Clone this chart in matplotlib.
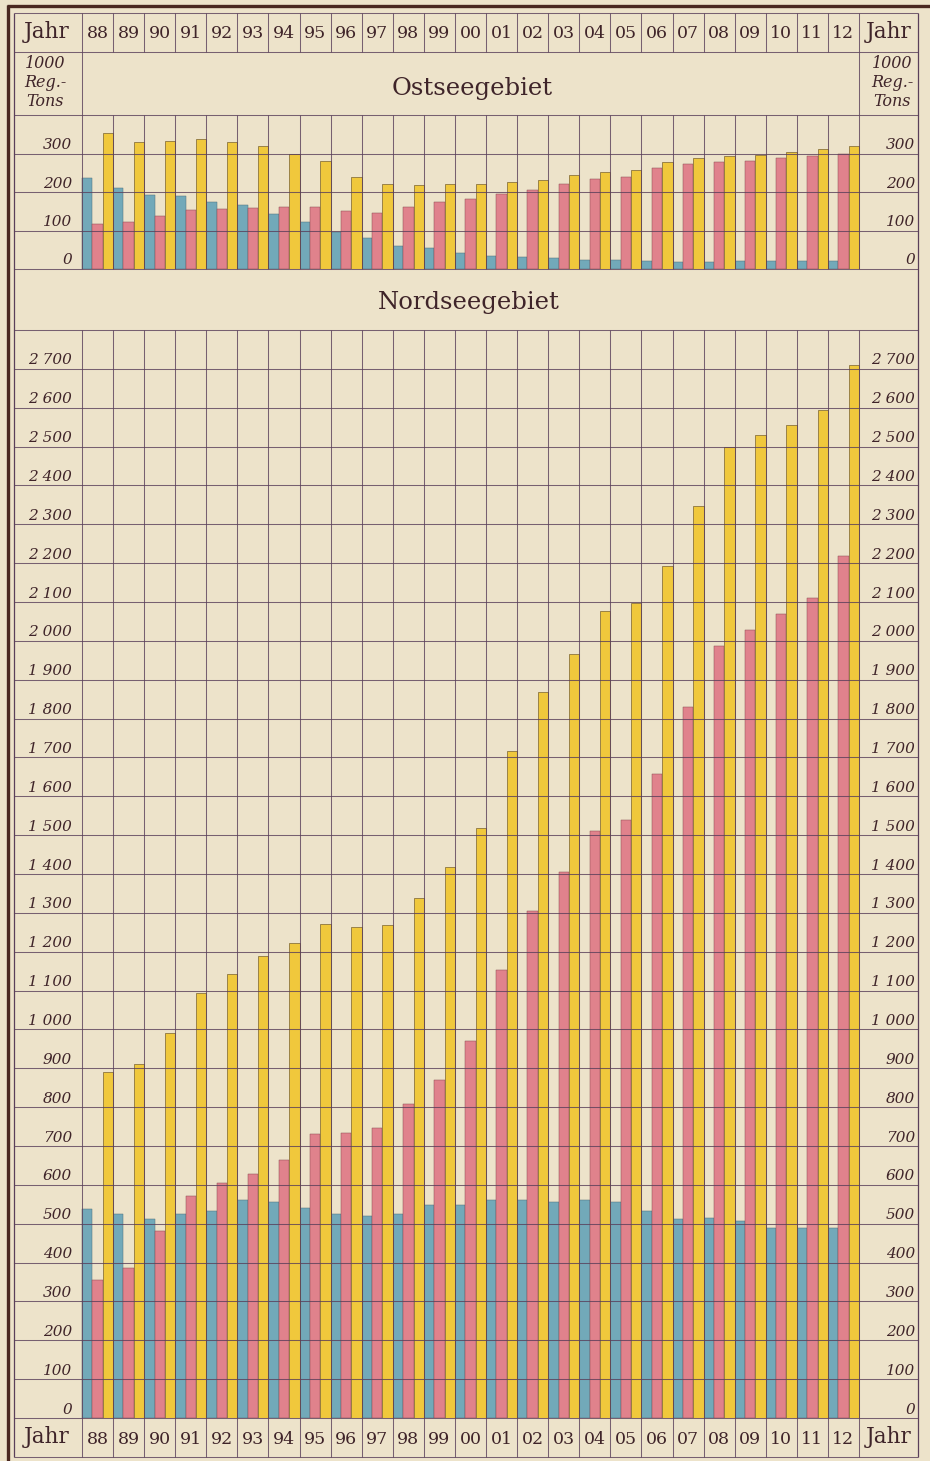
import matplotlib
matplotlib.use('Agg')
import matplotlib.pyplot as plt
from matplotlib.transforms import blended_transform_factory as blend, offset_copy
import numpy as np

# ---------------- data ----------------
years = ['88', '89', '90', '91', '92', '93', '94', '95', '96', '97', '98', '99',
         '00', '01', '02', '03', '04', '05', '06', '07', '08', '09', '10', '11', '12']

ost_blue = [237, 210, 193, 189, 174, 165, 143, 121, 95, 80, 61, 54,
            42, 34, 30, 28, 23, 23, 22, 18, 18, 20, 20, 20, 20]
ost_pink = [117, 122, 138, 153, 156, 159, 161, 160, 150, 146, 160, 175,
            183, 195, 204, 221, 234, 239, 263, 273, 278, 280, 289, 294, 300]
ost_yellow = [354, 329, 332, 338, 329, 319, 300, 280, 240, 222, 218, 222,
              222, 227, 230, 243, 251, 256, 279, 288, 294, 295, 304, 311, 319]

nord_blue = [538, 526, 511, 525, 532, 562, 555, 540, 525, 520, 526, 548,
             547, 561, 562, 557, 562, 557, 534, 513, 515, 507, 490, 490, 488]
nord_pink = [355, 385, 481, 572, 605, 629, 664, 732, 733, 746, 809, 870,
             970, 1154, 1306, 1406, 1511, 1539, 1657, 1829, 1986, 2029, 2069, 2111, 2219]
nord_yellow = [890, 910, 990, 1094, 1143, 1190, 1222, 1272, 1263, 1268, 1337, 1419,
               1518, 1717, 1868, 1967, 2077, 2097, 2192, 2347, 2499, 2531, 2556, 2595, 2709]

ost_ticks = [0, 100, 200, 300]
ost_tick_labels = ['0', '100', '200', '300']
nord_ticks = [0, 100, 200, 300, 400, 500, 600, 700, 800, 900, 1000, 1100, 1200, 1300,
              1400, 1500, 1600, 1700, 1800, 1900, 2000, 2100, 2200, 2300, 2400, 2500, 2600, 2700]
nord_tick_labels = ['0', '100', '200', '300', '400', '500', '600', '700', '800', '900',
                    '1 000', '1 100', '1 200', '1 300', '1 400', '1 500', '1 600', '1 700',
                    '1 800', '1 900', '2 000', '2 100', '2 200', '2 300', '2 400', '2 500',
                    '2 600', '2 700']

ost_title = 'Ostseegebiet'
nord_title = 'Nordseegebiet'
year_label = 'Jahr'
unit_lines = ['1000', 'Reg.-', 'Tons']

# ---------------- style ----------------
W, H = 930, 1461
BG = '#ede3ca'
LINE = '#5a3f5a'
DARK = '#4a2820'
TXT = '#3f2429'
C_BLUE = '#72a9b9'
C_PINK = '#e0828c'
C_YEL = '#f0c83c'
SERIF = 'DejaVu Serif'

fig = plt.figure(figsize=(W / 100, H / 100), dpi=100, facecolor=BG)


def px_axes(x0, y0, x1, y1, z):
    return fig.add_axes([x0 / W, 1 - y1 / H, (x1 - x0) / W, (y1 - y0) / H], zorder=z)


bg = px_axes(0, 0, W, H, 0)
bg.set_xlim(0, W)
bg.set_ylim(H, 0)
bg.axis('off')
bg.set_facecolor(BG)

L, R = 14, 918          # inner frame
X0, X1 = 82, 859        # year column block
n = len(years)
cw = (X1 - X0) / n

Y_TOP, Y_HDR = 13, 52
Y_O0, Y_O1 = 115, 269
Y_N0, Y_N1 = 330, 1418
Y_BOT = 1457
GLW = 0.75
GA = 0.8


def data_axes(y0, y1, ymax):
    ax = px_axes(L, y0, R, y1, 2)
    ax.set_facecolor('none')
    ax.set_xlim(-0.5 - (X0 - L) / cw, n - 0.5 + (R - X1) / cw)
    ax.set_ylim(0, ymax)
    ax.axis('off')
    return ax


ax_o = data_axes(Y_O0, Y_O1, 400)
ax_n = data_axes(Y_N0, Y_N1, 2800)

x = np.arange(n)
w = 1 / 3
for ax, b, p, yv in [(ax_o, ost_blue, ost_pink, ost_yellow),
                     (ax_n, nord_blue, nord_pink, nord_yellow)]:
    ax.bar(x - w, b, w, color=C_BLUE, edgecolor='#4d6f78', linewidth=0.35, zorder=2)
    ax.bar(x, p, w, color=C_PINK, edgecolor='#8a4a50', linewidth=0.35, zorder=2)
    ax.bar(x + w, yv, w, color=C_YEL, edgecolor='#6b5524', linewidth=0.45, zorder=2)

# horizontal grid (across label columns too)
for ax, ymax in [(ax_o, 400), (ax_n, 2800)]:
    for v in range(0, ymax + 1, 100):
        ax.axhline(v, color=LINE, lw=GLW, alpha=GA, zorder=3, clip_on=False)

# vertical column lines
edges = np.arange(n + 1) - 0.5
tc = blend(ax_n.transData, bg.transData)
for y0, y1 in [(Y_TOP, Y_HDR), (Y_O0, Y_O1), (Y_N0, Y_BOT)]:
    ax_n.vlines(edges, y0, y1, colors=LINE, lw=GLW, alpha=GA, transform=tc,
                clip_on=False, zorder=3)
ax_n.vlines([edges[0], edges[-1]], Y_HDR, Y_O0, colors=LINE, lw=GLW, alpha=GA,
            transform=tc, clip_on=False, zorder=3)

# frame
bg.vlines([L, R], Y_TOP, Y_BOT, colors=LINE, lw=0.9)
bg.hlines([Y_TOP, Y_HDR, Y_BOT], L, R, colors=LINE, lw=GLW, alpha=GA)
bg.plot([8, 8], [5, H], color=DARK, lw=2.4, solid_capstyle='butt')
bg.plot([7, W], [6, 6], color=DARK, lw=2.4, solid_capstyle='butt')

# year labels
for i, yr in enumerate(years):
    ax_n.text(i, 33, yr, transform=tc, ha='center', va='center', family=SERIF,
              fontsize=12.5, color=TXT, zorder=4, clip_on=False)
    ax_n.text(i, 1439, yr, transform=tc, ha='center', va='center', family=SERIF,
              fontsize=12.5, color=TXT, zorder=4, clip_on=False)
for xx, yy in [(47, 32), (889, 32), (47, 1437), (889, 1437)]:
    bg.text(xx, yy, year_label, ha='center', va='center', family=SERIF, fontsize=15.5,
            color=TXT)

# titles
bg.text(472, 88, ost_title, ha='center', va='center', family=SERIF, fontsize=17.5,
        color=TXT)
bg.text(469, 303, nord_title, ha='center', va='center', family=SERIF, fontsize=17.5,
        color=TXT)

# unit labels
for k, s in enumerate(unit_lines):
    for xx in (45, 892):
        bg.text(xx, 63 + k * 19.5, s, ha='center', va='center', family=SERIF,
                style='italic', fontsize=11.5, color=TXT)

# tick labels (both sides)
for ax, ticks, labels in [(ax_o, ost_ticks, ost_tick_labels),
                          (ax_n, nord_ticks, nord_tick_labels)]:
    tl = offset_copy(blend(bg.transData, ax.transData), fig=fig, x=0, y=4.5, units='dots')
    for v, lab in zip(ticks, labels):
        ax.text(72, v, lab, transform=tl, ha='right', va='baseline', family=SERIF,
                style='italic', fontsize=11, color=TXT, clip_on=False, zorder=4)
        ax.text(915, v, lab, transform=tl, ha='right', va='baseline', family=SERIF,
                style='italic', fontsize=11, color=TXT, clip_on=False, zorder=4)

fig.savefig('out.png', dpi=100, facecolor=BG)
